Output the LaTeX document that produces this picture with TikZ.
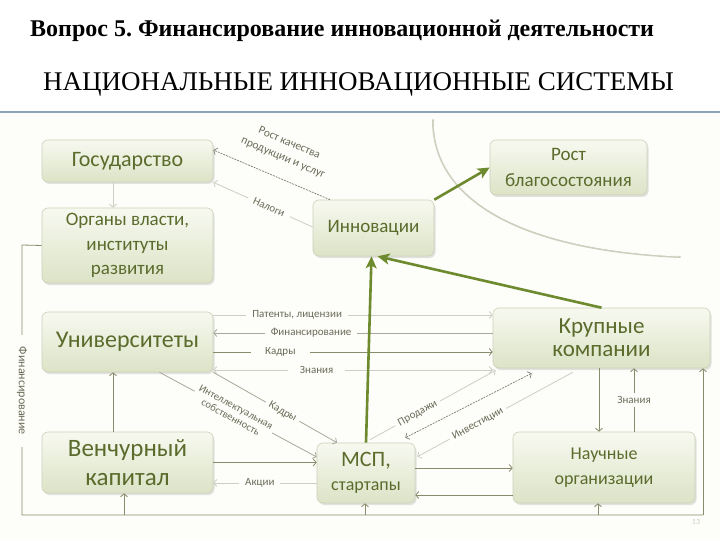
\documentclass[tikz,border=0pt]{standalone}
\usepackage{fontspec}
\setmainfont{Liberation Serif}
\newfontfamily\boxfont{Carlito}
\usetikzlibrary{arrows.meta,shadows}
\frenchspacing
\definecolor{boxtext}{HTML}{5B6B2C}
\definecolor{boxtop}{HTML}{F7F9F0}
\definecolor{boxbot}{HTML}{DCE3C6}
\definecolor{boxdraw}{HTML}{CCD2BA}
\definecolor{darkln}{HTML}{8A8B6C}
\definecolor{midln}{HTML}{A8A99A}
\definecolor{lightln}{HTML}{CDCEC4}
\definecolor{dashln}{HTML}{7E7E74}
\definecolor{greenln}{HTML}{6E8A2E}
\definecolor{lbltext}{HTML}{6A6B58}
\definecolor{bgc}{HTML}{FDFDF9}
\definecolor{topline}{HTML}{8FA3B6}
\definecolor{curvec}{HTML}{CDD0BE}
\begin{document}
\begin{tikzpicture}[x=1pt,y=-1pt,
  >={Straight Barb[length=3pt,width=7pt]},
  box/.style={draw=boxdraw, line width=0.6pt, rounded corners=6pt,
    top color=boxtop, bottom color=boxbot,
    drop shadow={shadow xshift=1.5pt, shadow yshift=-2pt, opacity=0.22, fill=gray},
    text=boxtext, align=center, inner sep=0pt},
  cn/.style={draw=#1, line width=0.8pt},
  garrow/.style={draw=greenln, line width=2.6pt, -{Stealth[length=12pt,width=11pt,inset=3pt]}},
  lbl/.style={font=\boxfont\fontsize{11}{12}\selectfont, text=lbltext, fill=bgc, inner xsep=6pt, inner ysep=0.5pt, align=center},
  lbln/.style={font=\boxfont\fontsize{11.5}{16}\selectfont, text=lbltext, inner sep=1pt, align=center}
]
\useasboundingbox (0,0) rectangle (720,540);
\fill[white] (0,0) rectangle (720,540);
\fill[bgc] (0,113) rectangle (720,540);
\draw[topline, line width=1.2pt] (0,112) -- (720,112);

\node[anchor=base west, inner sep=0pt, font=\bfseries\fontsize{24}{28}\selectfont] (title) at (30,37) {Вопрос 5. Финансирование инновационной деятельности};
\node[anchor=base west, inner sep=0pt, font=\fontsize{27}{30}\selectfont] (subtitle) at (43,91) {НАЦИОНАЛЬНЫЕ ИННОВАЦИОННЫЕ СИСТЕМЫ};

% curve
\draw[curvec, line width=2pt, line cap=round] (433,120) .. controls (433,200) and (520,250) .. (680,257);
\draw[white, line width=0.7pt, line cap=round] (434.2,121) .. controls (434.2,199) and (521,248.5) .. (678,256);

% boxes
\node[box, minimum width=171pt, minimum height=42pt, font=\boxfont\fontsize{22}{26}\selectfont] (gos) at (127.5,161) {Государство};
\node[box, minimum width=171pt, minimum height=75pt, font=\boxfont\fontsize{19}{24.5}\selectfont] (org) at (127.5,245.5) {Органы власти,\\институты\\развития};
\node[box, minimum width=121pt, minimum height=56pt, font=\boxfont\fontsize{19}{22}\selectfont] (innov) at (373.5,228) {Инновации};
\node[box, minimum width=157pt, minimum height=55pt, font=\boxfont\fontsize{19}{26}\selectfont] (rost) at (568.5,167.5) {Рост\\благосостояния};
\node[box, minimum width=171pt, minimum height=60pt, font=\boxfont\fontsize{24}{26}\selectfont] (univ) at (127.5,342) {Университеты};
\node[box, minimum width=171pt, minimum height=61pt, font=\boxfont\fontsize{25}{29}\selectfont] (vent) at (127.5,462.5) {Венчурный\\капитал};
\node[box, minimum width=98pt, minimum height=60pt, font=\boxfont\fontsize{18}{24}\selectfont] (msp) at (366,473) {{\fontsize{22}{24}\selectfont МСП,}\\стартапы};
\node[box, minimum width=217pt, minimum height=60pt, font=\boxfont\fontsize{23}{23}\selectfont] (big) at (601.5,338) {Крупные\\компании};
\node[box, minimum width=182pt, minimum height=71pt, font=\boxfont\fontsize{18}{25}\selectfont] (sci) at (604,467.5) {Научные\\организации};

% government links
\draw[cn=dashln, line width=0.7pt, dash pattern=on 2pt off 1pt, ->] ([xshift=-43.5pt]innov.north) -- node[lbln, sloped, above=14pt, pos=0.47] {Рост качества\\продукции и услуг} ([yshift=11pt]gos.east);
\draw[cn=lightln, ->] ([xshift=-14.5pt]gos.south) -- ([xshift=-14.5pt]gos.south |- org.north);
\draw[cn=lightln, ->] ([yshift=1pt]innov.west) -- node[lbl, sloped, pos=0.44] {Налоги} (gos.south east);

% universities - big companies
\draw[cn=lightln, ->] ([yshift=27pt]univ.east) -- node[lbl, pos=0.3] {Патенты, лицензии} ([yshift=27pt]univ.east -| big.west);
\draw[cn=midln, <-] ([yshift=9pt]univ.east) -- node[lbl, pos=0.35] {Финансирование} ([yshift=9pt]univ.east -| big.west);
\draw[cn=darkln, ->] ([yshift=-10pt]univ.east) -- node[lbl, pos=0.24, inner xsep=14pt] {Кадры} ([yshift=-10pt]univ.east -| big.west);
\draw[cn=lightln, <->] ([yshift=-28pt]univ.east) -- node[lbl, pos=0.37, inner xsep=12pt] {Знания} ([yshift=-28pt]univ.east -| big.west);

% universities - msp
\draw[cn=midln, ->] (univ.south east) -- node[lbl, sloped, pos=0.56, inner xsep=4pt] {Кадры} ([xshift=-29pt]msp.north);
\draw[cn=midln, ->] ([xshift=32pt]univ.south) -- node[lbl, sloped, pos=0.47, inner xsep=3pt, font=\boxfont\fontsize{10.5}{11.5}\selectfont] {Интеллектуальная\\собственность} ([yshift=16pt]msp.west);

% venture
\draw[cn=darkln, ->] ([xshift=-14.5pt]vent.north) -- ([xshift=-14.5pt]vent.north |- univ.south);
\draw[cn=darkln, ->] (vent.east) -- (vent.east -| msp.west);
\draw[cn=lightln, <-] ([yshift=-20.5pt]vent.east) -- node[lbl, pos=0.45] {Акции} ([yshift=-20.5pt]vent.east -| msp.west);

% msp - big
\draw[cn=lightln, ->] ([xshift=4pt,yshift=3pt]msp.north) -- node[lbl, sloped, pos=0.38, inner xsep=4pt] {Продажи} ([xshift=3pt,yshift=-2pt]big.south west);
\draw[cn=dashln, line width=0.7pt, dash pattern=on 2pt off 1pt, <->] ([xshift=-10pt,yshift=5pt]msp.north east) -- ([xshift=39pt,yshift=-5pt]big.south west);
\draw[cn=lightln, ->] ([xshift=80pt,yshift=-4pt]big.south west) -- node[lbl, sloped, pos=0.61, inner xsep=4pt] {Инвестиции} ([xshift=2pt,yshift=-14pt]msp.north east);

% msp - sci
\draw[cn=darkln, ->] ([yshift=5pt]msp.east) -- ([yshift=5pt]msp.east -| sci.west);
\draw[cn=darkln, <-] ([yshift=-22pt]msp.east) -- ([yshift=-22pt]msp.east -| sci.west);

% big - sci
\draw[cn=darkln, ->] ([xshift=-2.5pt]big.south) -- ([xshift=-2.5pt]big.south |- sci.north);
\draw[cn=darkln, ->] ([xshift=30pt]sci.north) -- node[lbl, pos=0.5, inner ysep=3pt] {Знания} ([xshift=30pt]sci.north |- big.south);

% financing loop
\coordinate (lt) at (22,245);
\coordinate (lb) at (22,515);
\coordinate (rb) at (703,515);
\draw[cn=darkln] (org.west) -- (lt) -- node[lbl, sloped, pos=0.54, inner xsep=12pt, font=\boxfont\fontsize{12}{13}\selectfont] {Финансирование} (lb) -- (rb);
\draw[cn=darkln, ->] (rb) -- (rb |- big.south);
\draw[cn=darkln, ->] (124,515) -- (124,515 |- vent.south);
\draw[cn=darkln, ->] (365,515) -- (365,515 |- msp.south);
\draw[cn=darkln, ->] (598,515) -- (598,515 |- sci.south);

% green arrows
\draw[garrow] (innov.north east) -- (rost.west);
\draw[garrow] (big.north) -- ([xshift=4pt]innov.south);
\draw[garrow] (msp.north) -- ([xshift=-2pt]innov.south);

\node[font=\boxfont\fontsize{8}{9}\selectfont, text=lightln] (pg) at (696,522) {13};
\end{tikzpicture}
\end{document}
